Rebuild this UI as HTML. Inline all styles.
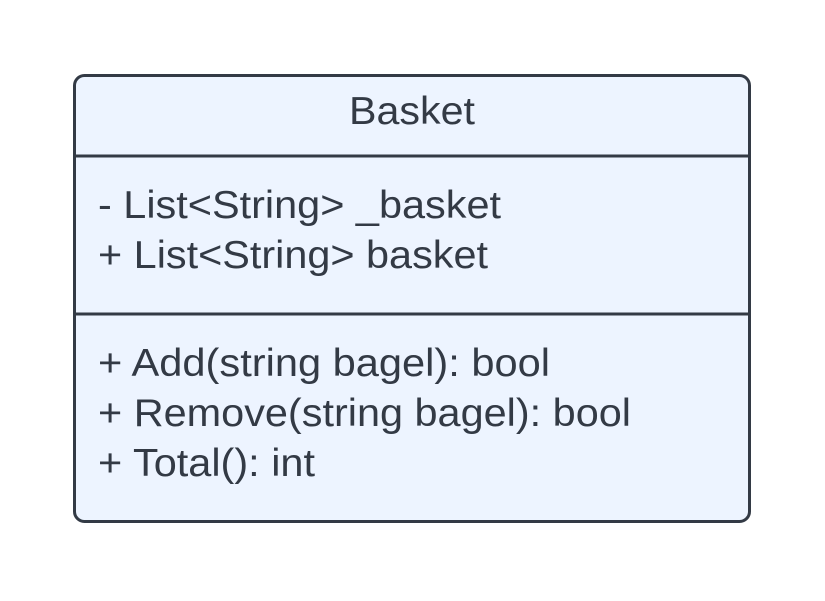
<!DOCTYPE html>
<html><head><style>html,body{margin:0;padding:0;background:#fff}</style></head>
<body>
<svg width="825" height="596" xmlns="http://www.w3.org/2000/svg" font-family="Liberation Sans, Arial, sans-serif" font-size="39" fill="#333a45">
<rect x="74.5" y="75.5" width="675" height="446" rx="10" ry="10" fill="#edf4ff" stroke="#333a45" stroke-width="3"/>
<line x1="74" y1="156" x2="750" y2="156" stroke="#333a45" stroke-width="3"/>
<line x1="74" y1="314" x2="750" y2="314" stroke="#333a45" stroke-width="3"/>
<text x="349" y="124" textLength="126" lengthAdjust="spacingAndGlyphs">Basket</text>
<text x="98" y="218" textLength="403" lengthAdjust="spacingAndGlyphs">- List&lt;String&gt; _basket</text>
<text x="98" y="268" textLength="390" lengthAdjust="spacingAndGlyphs">+ List&lt;String&gt; basket</text>
<text x="98" y="376" textLength="452" lengthAdjust="spacingAndGlyphs">+ Add(string bagel): bool</text>
<text x="98" y="426" textLength="533" lengthAdjust="spacingAndGlyphs">+ Remove(string bagel): bool</text>
<text x="98" y="476" textLength="217" lengthAdjust="spacingAndGlyphs">+ Total(): int</text>
</svg>
</body></html>
